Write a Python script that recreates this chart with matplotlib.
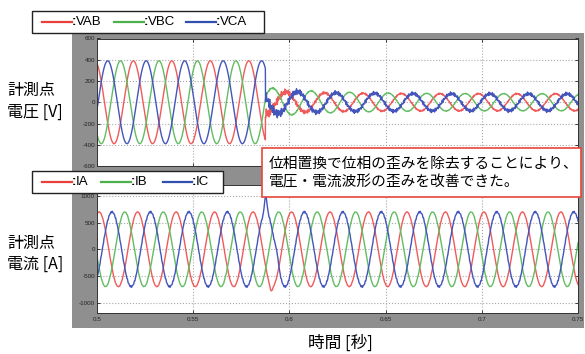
import numpy as np
import matplotlib
matplotlib.use('Agg')
import matplotlib.pyplot as plt
from matplotlib.patches import Rectangle
from matplotlib.lines import Line2D

plt.rcParams['font.family'] = ['Noto Sans CJK JP', 'DejaVu Sans']
plt.rcParams['axes.unicode_minus'] = False

# ---- data ----
t_start, t_end = 0.5, 0.75
t_switch = 0.5875          # phase replacement switched on here
freq = 50.0

x_ticks = [0.5, 0.55, 0.6, 0.65, 0.7, 0.75]
x_tick_labels = ['0.5', '0.55', '0.6', '0.65', '0.7', '0.75']
v_ticks = [-600, -400, -200, 0, 200, 400, 600]
i_ticks = [-1000, -500, 0, 500, 1000]

# voltages VAB, VBC, VCA
v_names = ['VAB', 'VBC', 'VCA']
v_pre_amp = [390, 390, 390]
v_pre_peak = [0.49889, 0.51222, 0.50556]     # time of one crest before switch
v_post_amp = [80, 80, 80]
v_post_kick = [25, 60, 35]                   # extra amplitude right after switch
v_post_peak = [0.67827, 0.67136, 0.66424]    # time of one crest after switch
v_ripple = [42, 6, 34]                       # high-freq ripple right after switch
v_ripple_floor = [7, 3, 17]

# currents IA, IB, IC
i_names = ['IA', 'IB', 'IC']
i_amp = [700, 700, 700]
i_peak = [0.50111, 0.51444, 0.50778]
i_bump = [-90, 0, 290]                       # disturbance at switch
i_bump_t = [0.5905, 0.5875, 0.5877]
i_shoulder = [0, 0, 110]
i_ripple = [4, 4, 16]

ripple_freqs = [1150, 1650]
ripple_weights = [0.6, 0.4]

red, green, blue = '#f05a5a', '#62bd62', '#4455bb'
colors = [red, green, blue]
leg_colors = ['#e8403c', '#4cb04c', '#3050b0']

W, H = 585, 354
def fx(px):
    return px / W
def fy(py):
    return 1 - py / H

t = np.arange(t_start, t_end + 1e-9, 1 / 20000)
w = 2 * np.pi * freq
ripple = sum(a * np.sin(2 * np.pi * f * t + k) for k, (f, a) in enumerate(zip(ripple_freqs, ripple_weights)))
after = t >= t_switch
dt = np.clip(t - t_switch, 0, None)

fig = plt.figure(figsize=(W / 100, H / 100), dpi=100)
fig.patch.set_facecolor('white')
fig.patches.append(Rectangle((fx(72), fy(328)), fx(584) - fx(72), fy(33) - fy(328),
                             transform=fig.transFigure, facecolor='#8f8f8f', edgecolor='none', zorder=-1))

ax_v = fig.add_axes([fx(97), fy(166), fx(578) - fx(97), fy(38.5) - fy(166)])
ax_i = fig.add_axes([fx(97), fy(313.3), fx(578) - fx(97), fy(185.3) - fy(313.3)])

# voltage waveforms
for n in range(3):
    pre = v_pre_amp[n] * np.cos(w * (t - v_pre_peak[n]))
    amp = v_post_amp[n] + v_post_kick[n] * np.exp(-dt / 0.03)
    rip = (v_ripple[n] * np.exp(-dt / 0.015) + v_ripple_floor[n]) * ripple
    post = amp * np.cos(w * (t - v_post_peak[n])) + rip
    ax_v.plot(t, np.where(after, post, pre), color=colors[n], lw=1.0)

# current waveforms
for n in range(3):
    y = i_amp[n] * np.cos(w * (t - i_peak[n]))
    y = y + i_bump[n] * np.exp(-((t - i_bump_t[n]) / 0.0009) ** 2)
    y = y + i_shoulder[n] * np.exp(-((t - 0.5935) / 0.0012) ** 2)
    y = y + i_ripple[n] * ripple
    ax_i.plot(t, y, color=colors[n], lw=1.0)

for ax, ticks, lim in [(ax_v, v_ticks, 600), (ax_i, i_ticks, 1200)]:
    ax.set_xlim(t_start, t_end)
    ax.set_ylim(-lim, lim)
    ax.set_yticks(ticks)
    ax.set_yticklabels([str(v) for v in ticks], family='Liberation Sans')
    ax.set_xticks(x_ticks)
    ax.grid(True, color='#a8a8a8', ls=':', lw=0.8)
    ax.tick_params(direction='in', length=2, width=0.6, labelsize=4.5, pad=1.5,
                   top=True, right=True, colors='#222222')
    for s in ax.spines.values():
        s.set_color('#333333')
        s.set_linewidth(0.7)
ax_v.set_xticklabels([])
ax_i.set_xticklabels(x_tick_labels, family='Liberation Sans')
ax_i.tick_params(axis='x', pad=2.5)

# legend boxes
def legend_box(x0, y0, x1, y1, items):
    fig.patches.append(Rectangle((fx(x0), fy(y1)), fx(x1) - fx(x0), fy(y0) - fy(y1),
                                 transform=fig.transFigure, facecolor='white',
                                 edgecolor='#222222', lw=1.0, zorder=5))
    yc = fy((y0 + y1) / 2)
    for (lx0, lx1, tx, name), c in zip(items, leg_colors):
        fig.lines.append(Line2D([fx(lx0), fx(lx1)], [yc, yc], transform=fig.transFigure,
                                color=c, lw=1.6, zorder=6))
        fig.text(fx(tx), yc, ':', ha='left', va='center', fontsize=9.5,
                 family='Liberation Sans', weight='bold', zorder=6)
        fig.text(fx(tx + 3.5), yc, name, ha='left', va='center', fontsize=9.5,
                 family='Liberation Sans', zorder=6)

legend_box(32, 11, 264, 33, [(42, 72, 72, v_names[0]), (114, 144, 144, v_names[1]),
                             (186, 216, 216, v_names[2])])
legend_box(32, 171, 223, 193, [(42, 72, 72, i_names[0]), (101, 131, 131, i_names[1]),
                               (163, 192, 192, i_names[2])])

# axis titles
fig.text(fx(7), fy(90), '計測点', ha='left', va='center', fontsize=11.5)
fig.text(fx(7), fy(112), '電圧 [V]', ha='left', va='center', fontsize=11.5)
fig.text(fx(7), fy(243), '計測点', ha='left', va='center', fontsize=11.5)
fig.text(fx(7), fy(264), '電流 [A]', ha='left', va='center', fontsize=11.5)
fig.text(fx(340), fy(343), '時間 [秒]', ha='center', va='center', fontsize=12)

# annotation box
fig.patches.append(Rectangle((fx(262), fy(197)), fx(581) - fx(262), fy(148) - fy(197),
                             transform=fig.transFigure, facecolor='white',
                             edgecolor='#e8463a', lw=1.2, zorder=5))
fig.text(fx(269), fy(164), '位相置換で位相の歪みを除去することにより、', ha='left', va='center',
         fontsize=10.6, zorder=6)
fig.text(fx(269), fy(182), '電圧・電流波形の歪みを改善できた。', ha='left', va='center',
         fontsize=10.6, zorder=6)

fig.savefig('out.png', dpi=100)
